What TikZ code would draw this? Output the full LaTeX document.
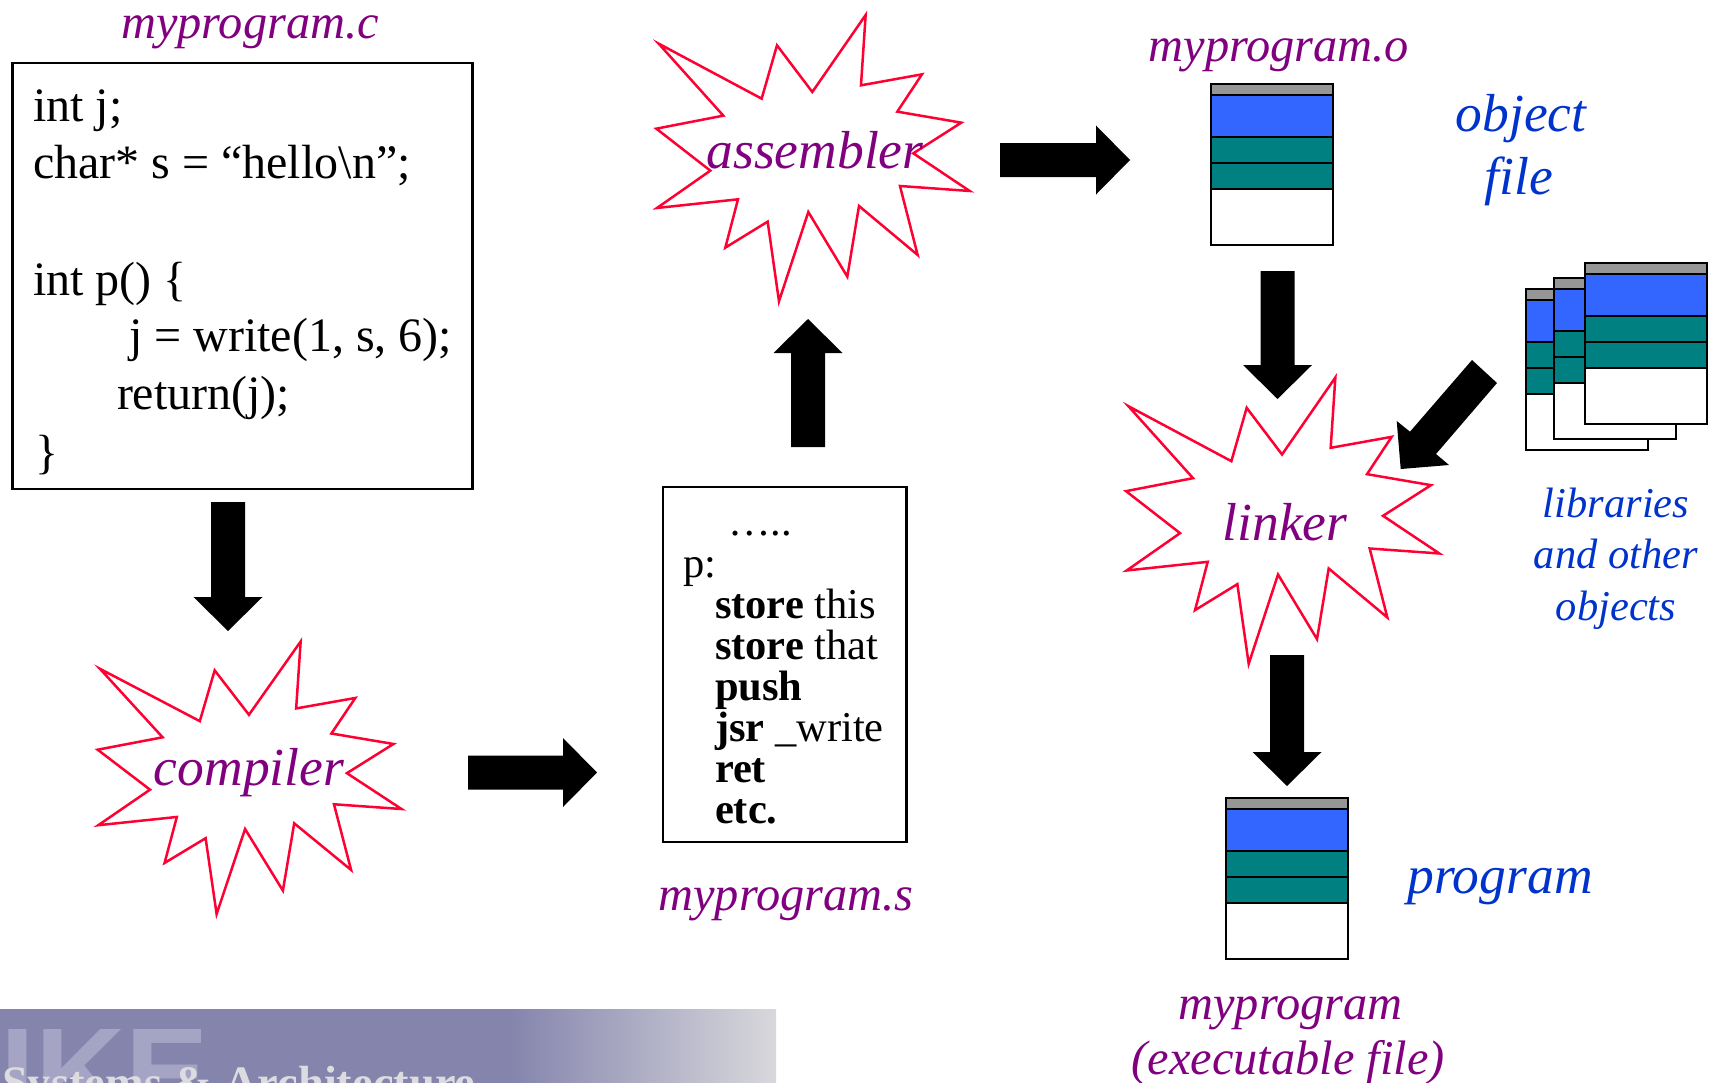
\documentclass[tikz,border=0pt]{standalone}
\usepackage{fontspec}
\setmainfont{Liberation Serif}
\newfontfamily\ikefont{Liberation Sans}
\usetikzlibrary{calc}
\definecolor{labelpurple}{HTML}{800080}
\definecolor{labelblue}{HTML}{0033CC}
\definecolor{burstred}{HTML}{FF0033}
\definecolor{segblue}{HTML}{3366FF}
\definecolor{segteal}{HTML}{008080}
\definecolor{seggray}{HTML}{969696}
\definecolor{bandbase}{HTML}{8584AD}
\definecolor{bandend}{HTML}{D8D8DC}
\definecolor{ikeshade}{HTML}{A5A4C4}
\definecolor{bandtext}{HTML}{DCDCE0}
\tikzset{
  every node/.style={inner sep=0pt,outer sep=0pt},
  codebox/.style={draw=black,line width=2.8pt},
  codetext/.style={anchor=base west,text=black,font=\fontsize{48}{48}\selectfont},
  asmtext/.style={anchor=base west,text=black,font=\fontsize{42.5}{42.5}\selectfont},
  filelabel/.style={anchor=base,text=labelpurple,font=\fontsize{48.4}{48.4}\selectfont\itshape},
  toollabel/.style={anchor=base,text=labelpurple,font=\fontsize{53.5}{53.5}\selectfont\itshape},
  kindlabel/.style={anchor=base,text=labelblue,font=\fontsize{53.5}{53.5}\selectfont\itshape},
  liblabel/.style={anchor=base,text=labelblue,font=\fontsize{42.5}{42.5}\selectfont\itshape},
  burst/.style={draw=burstred,line width=2.5pt,line join=miter,miter limit=20},
  segment/.style={draw=black,line width=2.8pt},
  blockarrow/.style={fill=black,draw=none}
}
% burst outline, in units of one third of a pixel
\newcommand{\burstpath}{(56,131) -- (365,296) -- (411,136) -- (517,276) -- (677,45) -- (663,256) -- (846,223) -- (772,335) -- (964,368) -- (820,460) -- (989,573) -- (780,558) -- (833,765) -- (657,618) -- (622,830) -- (505,636) -- (417,904) -- (383,665) -- (256,743) -- (294,598) -- (51,624) -- (211,512) -- (49,386) -- (250,347) -- cycle}
% #1 x, #2 y of the top-left corner of a stacked file
\newcommand{\filestack}[2]{%
  \filldraw[segment,fill=white]  (#1,#2) rectangle ++(122,161);
  \filldraw[segment,fill=seggray](#1,#2) rectangle ++(122,11);
  \filldraw[segment,fill=segblue]($(#1,#2)+(0,11)$) rectangle ++(122,42);
  \filldraw[segment,fill=segteal]($(#1,#2)+(0,53)$) rectangle ++(122,26);
  \filldraw[segment,fill=segteal]($(#1,#2)+(0,79)$) rectangle ++(122,26);
}
% #1 tail, #2 tip
\newcommand{\fatarrow}[2]{%
  \coordinate (fatbase) at ($(#2)!34pt!(#1)$);
  \fill[blockarrow] ($(#1)!17pt!90:(#2)$) -- ($(fatbase)!17pt!90:(#2)$) -- ($(fatbase)!34.5pt!90:(#2)$) -- (#2)
     -- ($(fatbase)!34.5pt!-90:(#2)$) -- ($(fatbase)!17pt!-90:(#2)$) -- ($(#1)!17pt!-90:(#2)$) -- cycle;
}
\begin{document}
\begin{tikzpicture}[x=1pt,y=-1pt]
\useasboundingbox (0,0) rectangle (1718,1082);
% footer band
\begin{scope}
  \clip (0,1009) rectangle (776,1090);
  \fill[bandbase] (0,1009) rectangle (511,1090);
  \shade[left color=bandbase,right color=bandend,shading angle=90] (510,1009) rectangle (776,1090);
  \node[anchor=base west,text=ikeshade,font=\fontsize{125}{125}\selectfont\ikefont\bfseries] (ikemark) at (1,1115.5) {IKE};
  \node[anchor=base west,text=bandtext,font=\fontsize{46.5}{46.5}\selectfont\bfseries] (bandtitle) at (2,1098) {Systems \& Architecture};
\end{scope}
% source file
\node[filelabel] (srcname) at (250,38) {myprogram.c};
\draw[codebox] (12.5,63) rectangle (472.5,489);
\node[codetext] (c1) at (33,121) {int j;};
\node[codetext] (c2) at (33,178) {char* s = “hello\textbackslash n”;};
\node[codetext] (c3) at (33,295) {int p() \{};
\node[codetext] (c4) at (129,351.5) {j = write(1, s, 6);};
\node[codetext] (c5) at (117,409.5) {return(j);};
\node[codetext] (c6) at (35,468) {\}};
% compiler
\draw[burst,x=0.3233pt,y=-0.3173pt,shift={(81.8pt,-627.2pt)}] \burstpath;
\node[toollabel] (compiler) at (249,785) {compiler};
% assembly file
\draw[codebox] (663,487) rectangle (906.5,842);
\node[asmtext] (a0) at (728,535) {…..};
\node[asmtext] (a1) at (683,577) {p:};
\node[asmtext] (a2) at (715,618) {\textbf{store} this};
\node[asmtext] (a3) at (715,659) {\textbf{store} that};
\node[asmtext] (a4) at (715,700) {\textbf{push}};
\node[asmtext] (a5) at (715,741) {\textbf{jsr} \_write};
\node[asmtext] (a6) at (715,782) {\textbf{ret}};
\node[asmtext] (a7) at (715,823) {\textbf{etc.}};
\node[filelabel] (asmname) at (786,910) {myprogram.s};
% assembler
\draw[burst,x=0.3333pt,y=-0.3333pt,shift={(640pt,0pt)}] \burstpath;
\node[toollabel] (assembler) at (815,168) {assembler};
% object file
\node[filelabel] (objname) at (1279,61) {myprogram.o};
\filestack{1211}{84}
\node[kindlabel] (obj1) at (1521,131) {object};
\node[kindlabel] (obj2) at (1519,194) {file};
% linker
\draw[burst,x=0.3333pt,y=-0.3333pt,shift={(1109.7pt,-362.5pt)}] \burstpath;
\node[toollabel] (linker) at (1285,540) {linker};
% libraries
\filestack{1526}{289}
\filestack{1554}{278}
\filestack{1585}{263}
\node[liblabel] (lib1) at (1616,517) {libraries};
\node[liblabel] (lib2) at (1616,568) {and other};
\node[liblabel] (lib3) at (1616,620) {objects};
% program
\filestack{1226}{798}
\node[kindlabel] (prog) at (1500,893) {program};
\node[filelabel] (exe1) at (1290.5,1019) {myprogram};
\node[filelabel] (exe2) at (1288,1074) {(executable file)};
% block arrows
\coordinate (t1) at (228,502);  \coordinate (h1) at (228,631);
\coordinate (t2) at (468,772.5);\coordinate (h2) at (597,772.5);
\coordinate (t3) at (808,447);  \coordinate (h3) at (808,319);
\coordinate (t4) at (1000,160); \coordinate (h4) at (1130,160);
\coordinate (t5) at (1277.5,271);\coordinate (h5) at (1277.5,399);
\coordinate (t7) at (1287,655); \coordinate (h7) at (1287,786);
\fatarrow{t1}{h1}
\fatarrow{t2}{h2}
\fatarrow{t3}{h3}
\fatarrow{t4}{h4}
\fatarrow{t5}{h5}
\fatarrow{t7}{h7}
\coordinate (t6a) at (1472,360); \coordinate (t6b) at (1497,383);
\coordinate (h6) at (1400.7,469);
\fill[blockarrow] (t6a) -- (1410,431.7) -- (1396.7,421) -- (h6) -- (1449,465) -- (1436,454) -- (t6b) -- cycle;
\end{tikzpicture}
\end{document}
